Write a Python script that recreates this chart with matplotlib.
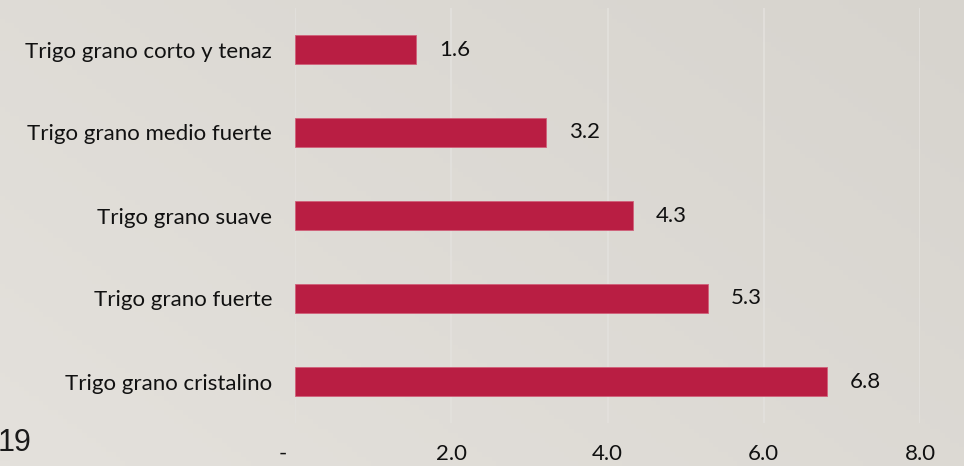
import numpy as np
import matplotlib.pyplot as plt
from matplotlib.colors import LinearSegmentedColormap

categorias = ['Trigo grano cristalino', 'Trigo grano fuerte', 'Trigo grano suave',
              'Trigo grano medio fuerte', 'Trigo grano corto y tenaz']
valores = [6.81, 5.29, 4.32, 3.21, 1.55]
etiquetas = ['6.8', '5.3', '4.3', '3.2', '1.6']
xticks = [0, 2, 4, 6, 8]
xtick_labels = ['-    ', '2.0', '4.0', '6.0', '8.0']

plt.rcParams['font.family'] = ['Lato', 'DejaVu Sans']

fig = plt.figure(figsize=(9.64, 4.66), dpi=100)

# fondo tipo diapositiva (degradado gris claro)
bg = fig.add_axes([0, 0, 1, 1], zorder=-1)
gx = np.linspace(0, 1, 200)
gy = np.linspace(0, 1, 100)
GX, GY = np.meshgrid(gx, gy)
grad = 0.6 * GX + 0.4 * (1 - GY)
bg.imshow(grad, cmap=LinearSegmentedColormap.from_list('fondo', ['#e4e1dc', '#d7d4ce']),
          aspect='auto', extent=[0, 1, 0, 1])
bg.axis('off')

ax = fig.add_axes([295 / 964, 43 / 466, 625 / 964, 415 / 466])
ax.patch.set_alpha(0)

y = np.arange(len(categorias))
ax.barh(y, valores, height=0.35, color='#b91e43', edgecolor='#d0607a', linewidth=0.6, zorder=3)

for v, txt, yy in zip(valores, etiquetas, y):
    ax.annotate(txt, (v, yy), xytext=(16.5, 0), textcoords='offset points',
                va='center', ha='left', fontsize=16, color='#111111')

ax.set_xlim(0, 8)
ax.set_ylim(-0.5, 4.5)
ax.set_xticks(xticks)
ax.set_xticklabels(xtick_labels)
ax.set_yticks(y)
ax.set_yticklabels(categorias)
ax.tick_params(axis='both', length=0, labelsize=16, colors='#111111')
ax.tick_params(axis='x', pad=15)
ax.tick_params(axis='y', pad=16.5)
ax.grid(axis='x', color='#e3e1dd', linewidth=1.2, zorder=0)
for s in ax.spines.values():
    s.set_visible(False)

fig.text(-0.002, 0.05, '19', fontsize=22, family='Liberation Sans', color='#1a1a1a',
         ha='left', va='center')

fig.savefig('out.png', dpi=100)
